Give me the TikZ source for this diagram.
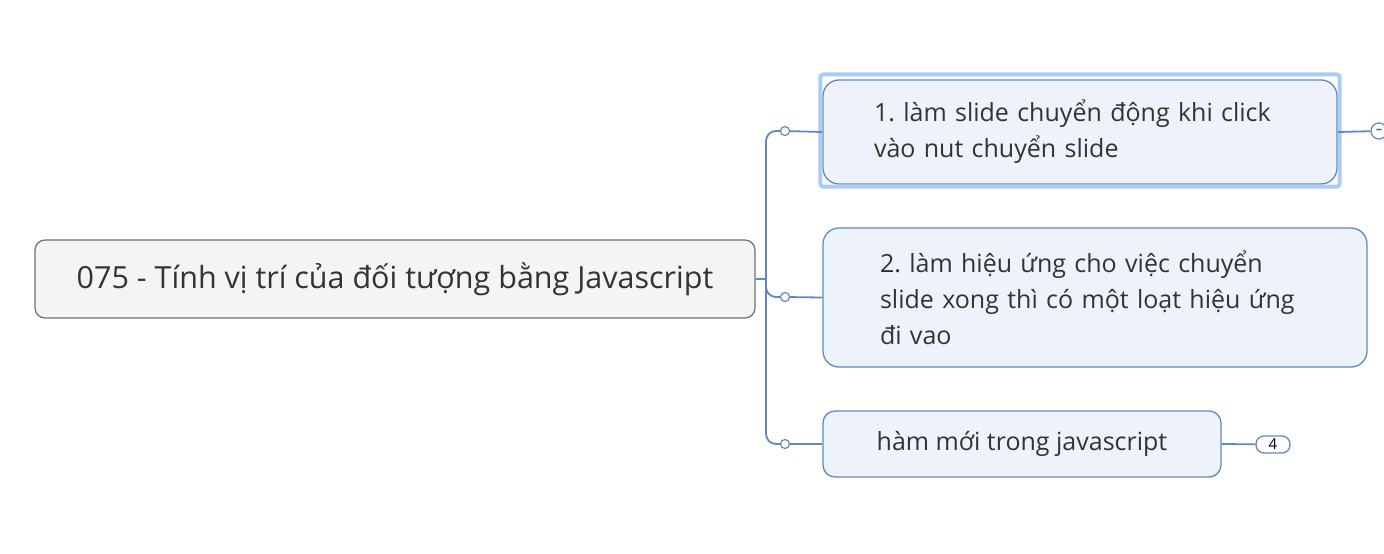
\documentclass[tikz,border=0pt]{standalone}
\usepackage{fontspec}
\setmainfont{Open Sans}
\frenchspacing
\definecolor{linkblue}{HTML}{5F89BF}
\definecolor{boxfill}{HTML}{EEF3FB}
\definecolor{rootfill}{HTML}{F4F4F4}
\definecolor{rootline}{HTML}{707070}
\definecolor{selblue}{HTML}{A9CDF4}
\definecolor{inktext}{HTML}{333333}
\begin{document}
\begin{tikzpicture}[x=1pt,y=-1pt,
    rootbox/.style={draw=rootline, fill=rootfill, rounded corners=10pt, line width=1.2pt,
      text=inktext, font=\fontsize{30.5}{32}\selectfont, minimum width=720pt, minimum height=78pt},
    topicbox/.style={draw=linkblue, fill=boxfill, rounded corners=16pt, line width=1.3pt,
      text=inktext, font=\fontsize{25}{36}\selectfont, align=left},
    knob/.style={circle, draw=linkblue, fill=white, line width=1.2pt, inner sep=0pt, minimum size=9pt},
    link/.style={draw=linkblue, line width=1.8pt}]
  \useasboundingbox[fill=white] (0,0) rectangle (1384,554);
  % central topic
  \node[rootbox] (root) at (395,279) {075 - Tính vị trí của đối tượng bằng Javascript};
  % sub topics
  \node[topicbox, minimum width=514pt, minimum height=104pt, text width=412pt] (t1) at (1080,132)
    {1. làm slide chuyển động khi click\\vào nut chuyển slide};
  \node[topicbox, minimum width=544pt, minimum height=139pt, text width=430pt] (t2) at (1095,297.5)
    {2. làm hiệu ứng cho việc chuyển\\slide xong thì có một loạt hiệu ứng\\đi vao};
  \node[topicbox, minimum width=398pt, minimum height=66pt, rounded corners=12pt] (t3) at (1022,444)
    {hàm mới trong javascript};
  % selection frame
  \draw[selblue, line width=4pt, rounded corners=3pt]
    ([shift={(-2,-5)}]t1.north west) rectangle ([shift={(2,2)}]t1.south east);
  % branches
  \coordinate (hub) at (766,279);
  \node[knob] (k1) at (785,131) {};
  \node[knob] (k2) at (785,297) {};
  \node[knob] (k3) at (785,444) {};
  \draw[link] (root.east) -- (hub);
  \draw[link, rounded corners=10pt] (hub) |- (k1);
  \draw[link, rounded corners=10pt] (hub) |- (k2);
  \draw[link, rounded corners=10pt] (hub) |- (k3);
  \draw[link] (k1) -- (t1.west);
  \draw[link] (k2) -- (t2.west);
  \draw[link] (k3) -- (t3.west);
  % collapse button and count badge
  \node[circle, draw=linkblue, fill=white, line width=1.2pt, minimum size=16pt, inner sep=0pt,
    font=\bfseries\fontsize{13}{13}\selectfont, text=rootline] (fold) at (1379,131) {\textendash};
  \draw[link] (t1.east) -- (fold);
  \node[draw=linkblue, fill=white, rounded corners=8pt, line width=1.3pt, minimum width=34pt,
    minimum height=17pt, inner sep=0pt, font=\fontsize{15}{15}\selectfont] (count) at (1273,444.5) {4};
  \draw[link] (t3.east) -- (count);
\end{tikzpicture}
\end{document}
